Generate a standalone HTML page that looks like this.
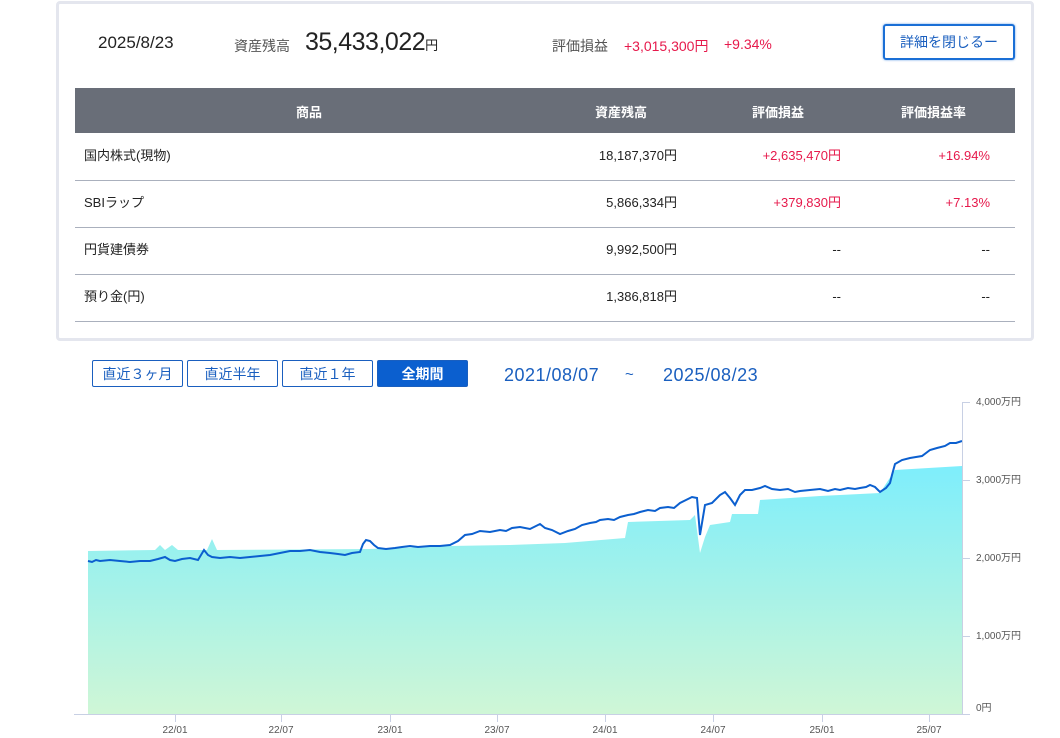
<!DOCTYPE html><html><head><meta charset="utf-8"><style>
body{margin:0;width:1060px;height:738px;background:#fff;font-family:"Liberation Sans","Noto Sans CJK JP",sans-serif;position:relative;overflow:hidden;color:#222}
.a{position:absolute;white-space:nowrap}
.panel{position:absolute;left:56px;top:1px;width:972px;height:334px;border:3px solid #e4e6ee;border-radius:4px}
.hd{position:absolute;left:75px;top:88px;width:940px;height:45px;background:#696e78;color:#fff;font-weight:bold;font-size:13px}
.row{position:absolute;left:75px;width:940px;height:46px;border-bottom:1px solid #aab0bd;font-size:13px}
.row span{position:absolute;top:14px;line-height:16px}
.r{color:#e6194b}
.btn{position:absolute;top:360px;height:27px;border:1px solid #1a5fbf;color:#1a5fbf;font-size:14px;text-align:center;line-height:27px;box-sizing:border-box;border-radius:2px}
</style></head><body>
<div class="panel"></div>
<div class="a" style="left:98px;top:33px;font-size:17px">2025/8/23</div>
<div class="a" style="left:234px;top:36px;font-size:14px;color:#555">資産残高</div>
<div class="a" style="left:305px;top:28px;font-size:25px;letter-spacing:-0.5px">35,433,022<span style="font-size:13px">円</span></div>
<div class="a" style="left:552px;top:36px;font-size:14px;color:#555">評価損益</div>
<div class="a r" style="left:624px;top:36px;font-size:14px">+3,015,300円</div>
<div class="a r" style="left:724px;top:36px;font-size:14px">+9.34%</div>
<div class="a" style="left:883px;top:24px;width:132px;height:36px;border:2px solid #1a6fd6;border-radius:3px;box-sizing:border-box;color:#1a5fbf;font-size:14px;text-align:center;line-height:32px;box-shadow:0 0 2px #6aa0e6">詳細を閉じるー</div>
<div class="hd"><span class="a" style="left:221px;top:14px">商品</span><span class="a" style="left:520px;top:14px">資産残高</span><span class="a" style="left:677px;top:14px">評価損益</span><span class="a" style="left:826px;top:14px">評価損益率</span></div>
<div class="row" style="top:134px"><span style="left:9px">国内株式(現物)</span><span style="right:338px">18,187,370円</span><span class="r" style="right:174px">+2,635,470円</span><span class="r" style="right:25px">+16.94%</span></div>
<div class="row" style="top:181px"><span style="left:9px">SBIラップ</span><span style="right:338px">5,866,334円</span><span class="r" style="right:174px">+379,830円</span><span class="r" style="right:25px">+7.13%</span></div>
<div class="row" style="top:228px"><span style="left:9px">円貨建債券</span><span style="right:338px">9,992,500円</span><span style="right:174px">--</span><span style="right:25px">--</span></div>
<div class="row" style="top:275px"><span style="left:9px">預り金(円)</span><span style="right:338px">1,386,818円</span><span style="right:174px">--</span><span style="right:25px">--</span></div>
<div class="btn" style="left:92px;width:91px">直近３ヶ月</div>
<div class="btn" style="left:187px;width:91px">直近半年</div>
<div class="btn" style="left:282px;width:91px">直近１年</div>
<div class="btn" style="left:377px;width:91px;background:#0b5fcf;color:#fff;font-weight:bold">全期間</div>
<div class="a" style="left:504px;top:365px;font-size:18px;color:#1a5fbf;letter-spacing:0.5px">2021/08/07</div>
<div class="a" style="left:625px;top:366px;font-size:15px;color:#1a5fbf">~</div>
<div class="a" style="left:663px;top:365px;font-size:18px;color:#1a5fbf;letter-spacing:0.5px">2025/08/23</div>
<svg class="a" style="left:0;top:0" width="1060" height="738">
<defs><linearGradient id="g" x1="0" y1="0" x2="0" y2="1"><stop offset="0" stop-color="#7eeefc"/><stop offset="0.5" stop-color="#a6f2e8"/><stop offset="1" stop-color="#cff6d6"/></linearGradient></defs>
<polygon fill="url(#g)" points="88,714 88,551 155,550 160,545 165,550 172,545 178,550 207,550 212,539 217,550 370,549 450,546 510,545 565,543 625,538 628,522 690,520 695,515 700,553 705,537 710,525 730,522 732,514 758,514 760,500 820,496 880,493 895,470 962,466 962,714"/>
<polyline fill="none" stroke="#0b5fcf" stroke-width="2" points="88,561 92,562 96,560 100,561 110,560 120,561 130,562 140,561 150,561 158,559 165,557 170,560 175,561 182,559 190,558 198,560 204,550 208,555 212,557 220,558 230,557 240,558 250,557 260,556 270,555 280,553 290,551 300,551 310,550 320,552 330,553 338,554 345,555 352,553 360,552 363,544 366,540 370,541 374,545 378,548 386,549 395,548 402,547 410,546 418,547 430,546 440,546 450,545 458,541 465,535 472,534 480,531 490,532 500,530 506,531 512,528 520,527 530,529 540,524 545,528 552,530 560,534 568,531 575,529 582,525 590,523 596,522 600,520 608,519 614,520 620,517 628,515 634,514 640,512 648,510 655,511 660,508 668,507 674,508 680,503 686,500 692,497 697,498 700,535 705,505 712,503 720,495 725,492 730,498 735,505 740,495 745,490 752,490 760,488 765,486 772,489 780,490 788,489 795,492 800,491 810,490 820,489 828,491 835,489 840,490 848,488 855,489 860,488 866,487 870,485 875,487 880,492 886,488 890,483 892,475 895,464 902,460 910,458 916,457 922,456 930,450 937,448 945,446 950,443 956,443 962,441"/>
<g stroke="#c8d0e4" stroke-width="1"><line x1="962.5" y1="402" x2="962.5" y2="715"/><line x1="74" y1="714.5" x2="970" y2="714.5"/>
<line x1="962" y1="402.5" x2="970" y2="402.5"/><line x1="962" y1="480.5" x2="970" y2="480.5"/><line x1="962" y1="558.5" x2="970" y2="558.5"/><line x1="962" y1="636.5" x2="970" y2="636.5"/>
<line x1="175.5" y1="714" x2="175.5" y2="722"/><line x1="281.5" y1="714" x2="281.5" y2="722"/><line x1="390.5" y1="714" x2="390.5" y2="722"/><line x1="497.5" y1="714" x2="497.5" y2="722"/><line x1="605.5" y1="714" x2="605.5" y2="722"/><line x1="713.5" y1="714" x2="713.5" y2="722"/><line x1="822.5" y1="714" x2="822.5" y2="722"/><line x1="929.5" y1="714" x2="929.5" y2="722"/></g>
<g font-size="10" fill="#555" font-family="Liberation Sans,Noto Sans CJK JP,sans-serif"><text x="976" y="405">4,000万円</text><text x="976" y="483">3,000万円</text><text x="976" y="561">2,000万円</text><text x="976" y="639">1,000万円</text><text x="976" y="711">0円</text>
<g text-anchor="middle"><text x="175" y="733">22/01</text><text x="281" y="733">22/07</text><text x="390" y="733">23/01</text><text x="497" y="733">23/07</text><text x="605" y="733">24/01</text><text x="713" y="733">24/07</text><text x="822" y="733">25/01</text><text x="929" y="733">25/07</text></g></g>
</svg>
</body></html>
